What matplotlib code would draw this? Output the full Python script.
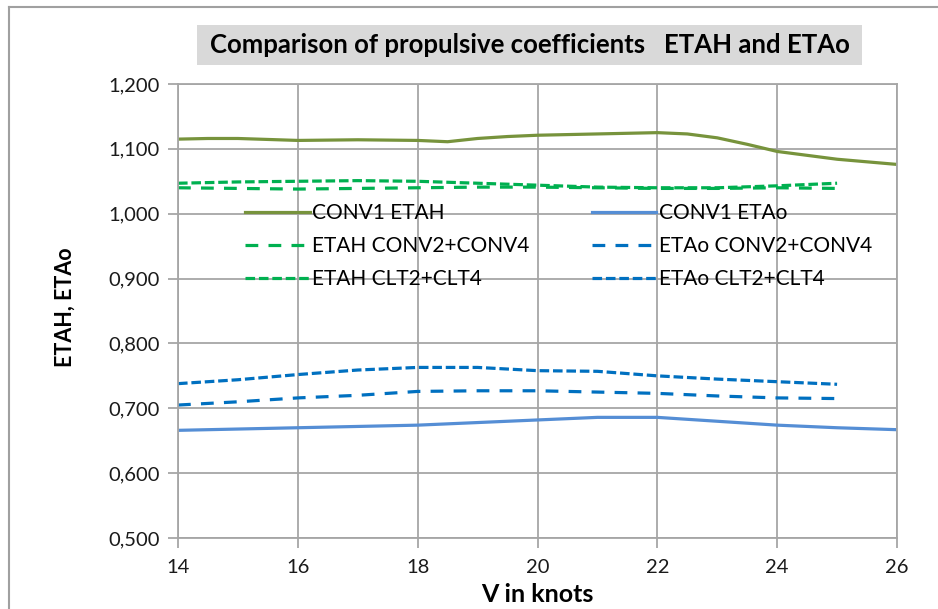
import matplotlib
matplotlib.use("Agg")
import matplotlib.pyplot as plt
from matplotlib.lines import Line2D
from matplotlib.patches import Rectangle
from matplotlib.ticker import FuncFormatter, MultipleLocator

# ---- data ----
v_etah_conv1 = [14, 14.5, 15, 16, 17, 18, 18.5, 19, 19.5, 20, 21, 22, 22.5, 23, 23.5, 24, 25, 26]
etah_conv1 = [1.115, 1.116, 1.116, 1.113, 1.114, 1.113, 1.111, 1.116, 1.119, 1.121, 1.123, 1.125,
              1.123, 1.117, 1.107, 1.096, 1.084, 1.076]

v_full = [14, 15, 16, 17, 18, 19, 20, 21, 22, 23, 24, 25, 26]
etao_conv1 = [0.666, 0.668, 0.670, 0.672, 0.674, 0.678, 0.682, 0.686, 0.686, 0.680, 0.674, 0.670, 0.667]

v_dash = [14, 15, 16, 17, 18, 19, 20, 21, 22, 23, 24, 25]
etah_conv24 = [1.040, 1.039, 1.038, 1.039, 1.040, 1.041, 1.041, 1.040, 1.039, 1.039, 1.040, 1.039]
etah_clt24 = [1.047, 1.049, 1.050, 1.051, 1.050, 1.047, 1.044, 1.041, 1.040, 1.040, 1.043, 1.047]
etao_conv24 = [0.705, 0.710, 0.716, 0.720, 0.726, 0.727, 0.727, 0.725, 0.723, 0.719, 0.716, 0.715]
etao_clt24 = [0.738, 0.744, 0.752, 0.759, 0.763, 0.763, 0.758, 0.757, 0.750, 0.745, 0.741, 0.737]

labels = ["CONV1 ETAH", "CONV1 ETAo", "ETAH CONV2+CONV4", "ETAo CONV2+CONV4",
          "ETAH CLT2+CLT4", "ETAo CLT2+CLT4"]
title = "Comparison of propulsive coefficients   ETAH and ETAo"
x_label = "V in knots"
y_label = "ETAH, ETAo"

plt.rcParams['font.family'] = ['Lato', 'DejaVu Sans']

W, H = 938, 609
fig = plt.figure(figsize=(W / 100, H / 100), dpi=100)
ax = fig.add_axes([178/W, 1-538/H, (897-178)/W, (538-84)/H])

lw = 2.3
c_olive = '#77933c'
c_lblue = '#558ed5'
c_green = '#00b050'
c_blue = '#0070c0'
long_dash = (4, 3.2)
short_dash = (3, 1.2)

h1, = ax.plot(v_etah_conv1, etah_conv1, color=c_olive, lw=lw)
h2, = ax.plot(v_full, etao_conv1, color=c_lblue, lw=lw)
h3, = ax.plot(v_dash, etah_conv24, color=c_green, lw=lw, dashes=long_dash)
h4, = ax.plot(v_dash, etao_conv24, color=c_blue, lw=lw, dashes=long_dash)
h5, = ax.plot(v_dash, etah_clt24, color=c_green, lw=lw, dashes=short_dash)
h6, = ax.plot(v_dash, etao_clt24, color=c_blue, lw=lw, dashes=short_dash)

ax.set_xlim(14, 26)
ax.set_ylim(0.5, 1.2)
ax.xaxis.set_major_locator(MultipleLocator(2))
ax.yaxis.set_major_locator(MultipleLocator(0.1))
ax.yaxis.set_major_formatter(FuncFormatter(lambda v, p: f"{v:.3f}".replace('.', ',')))

gc = '#a6a6a6'
ax.grid(True, color=gc, lw=1.3)
ax.set_axisbelow(True)
for s in ax.spines.values():
    s.set_color(gc)
    s.set_linewidth(1.3)
ax.tick_params(axis='both', direction='out', length=7, width=1.3, color=gc,
               labelsize=14.5, labelcolor='#1a1a1a')
ax.tick_params(axis='y', pad=6)
ax.tick_params(axis='x', pad=8)

ax.set_xlabel(x_label, fontsize=18, fontweight='bold')
ax.xaxis.set_label_coords((537-178)/719, -(595-538)/454)
ax.xaxis.label.set_va('center')
ax.set_ylabel(y_label, fontsize=15.5, fontweight='bold')
ax.yaxis.set_label_coords(-(178-65)/719, (538-307)/454)
ax.yaxis.label.set_va('center')

# legend: column-wise fill -> order h1,h3,h5 | h2,h4,h6
handles = [h1, h3, h5, h2, h4, h6]
leg_labels = [labels[0], labels[2], labels[4], labels[1], labels[3], labels[5]]
leg = ax.legend(handles, leg_labels, ncol=2, frameon=False,
                loc='upper left', bbox_to_anchor=((237-178)/719, (538-195)/454),
                fontsize=15, handlelength=3.1, handletextpad=0.1, columnspacing=3.0,
                labelspacing=0.62, borderaxespad=0)

fig.add_artist(Rectangle((197/W, 1-65/H), (862-197)/W, 40/H, transform=fig.transFigure,
                         facecolor='#d9d9d9', edgecolor='none'))
fig.text(530/W, 1-45/H, title, ha='center', va='center', fontsize=18.5, fontweight='bold')

# figure border
fig.add_artist(Line2D([9/W, 9/W], [0, 1-7/H], transform=fig.transFigure,
                      color='#a0a0a0', lw=1.5))
fig.add_artist(Line2D([9/W, 1], [1-7/H, 1-7/H], transform=fig.transFigure,
                      color='#a0a0a0', lw=1.5))

fig.savefig('out.png', dpi=100)
